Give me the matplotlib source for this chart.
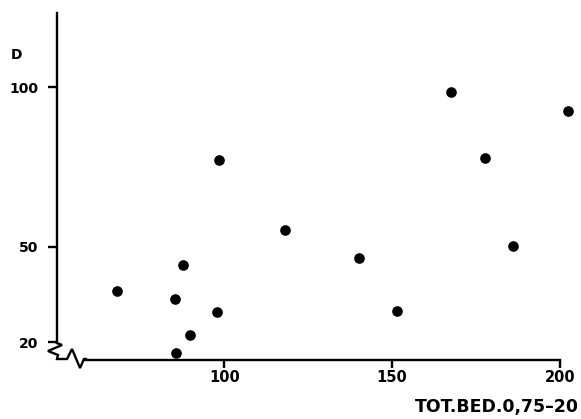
import matplotlib
matplotlib.use("Agg")
import matplotlib.pyplot as plt
from matplotlib.lines import Line2D

# data
tot_bed = [67.9, 85.4, 87.8, 85.6, 89.8, 97.8, 98.3, 118.2, 140.1, 151.4,
           167.6, 177.8, 186.1, 202.6]
d_vals = [36.2, 33.5, 44.3, 16.5, 22.3, 29.4, 77.3, 55.2, 46.4, 29.7,
          98.6, 77.8, 50.3, 92.7]
x_ticks = [100, 150, 200]
y_ticks = [20, 50, 100]
x_label = "TOT.BED.0,75\u201320"
y_label = "D"

W, H = 581, 419
fig = plt.figure(figsize=(W / 100, H / 100), dpi=100)

def fx(px):
    return px / W

def fy(py):
    return 1 - py / H

ax = fig.add_axes([fx(57), fy(360), fx(576.5) - fx(57), fy(13) - fy(360)])
ax.set_xlim(50.1, 205)
ax.set_ylim(14.4, 123.4)

lw = 1.7
ax.scatter(tot_bed, d_vals, s=44, color="black", zorder=3, clip_on=False)

for s in ["top", "right"]:
    ax.spines[s].set_visible(False)
for s in ["left", "bottom"]:
    ax.spines[s].set_linewidth(lw)
ax.spines["left"].set_bounds(19.8, 123.4)
ax.spines["bottom"].set_bounds(58.2, 200)

ax.set_xticks(x_ticks)
ax.set_yticks(y_ticks)
ax.set_xticklabels([str(v) for v in x_ticks], fontweight="bold", fontsize=10.5)
ax.set_yticklabels([str(v) for v in y_ticks], fontweight="bold", fontsize=10)
ax.tick_params(axis="x", direction="out", length=6, width=lw, pad=1.5)
ax.tick_params(axis="y", direction="out", length=6.5, width=lw, pad=7)

# broken-axis zigzags
zig = [(57, 343), (62, 345), (48, 351), (58, 355), (57, 359), (67, 359),
       (72, 349), (80, 368), (84, 359), (86, 359)]
fig.add_artist(Line2D([fx(p[0]) for p in zig], [fy(p[1]) for p in zig],
                      color="black", linewidth=lw, solid_joinstyle="miter"))

fig.text(fx(17), fy(55), y_label, fontweight="bold", fontsize=10,
         ha="center", va="center")
fig.text(fx(579), fy(407), x_label, fontweight="bold", fontsize=12.5,
         ha="right", va="center")

fig.savefig("out.png", dpi=100, facecolor="white")
